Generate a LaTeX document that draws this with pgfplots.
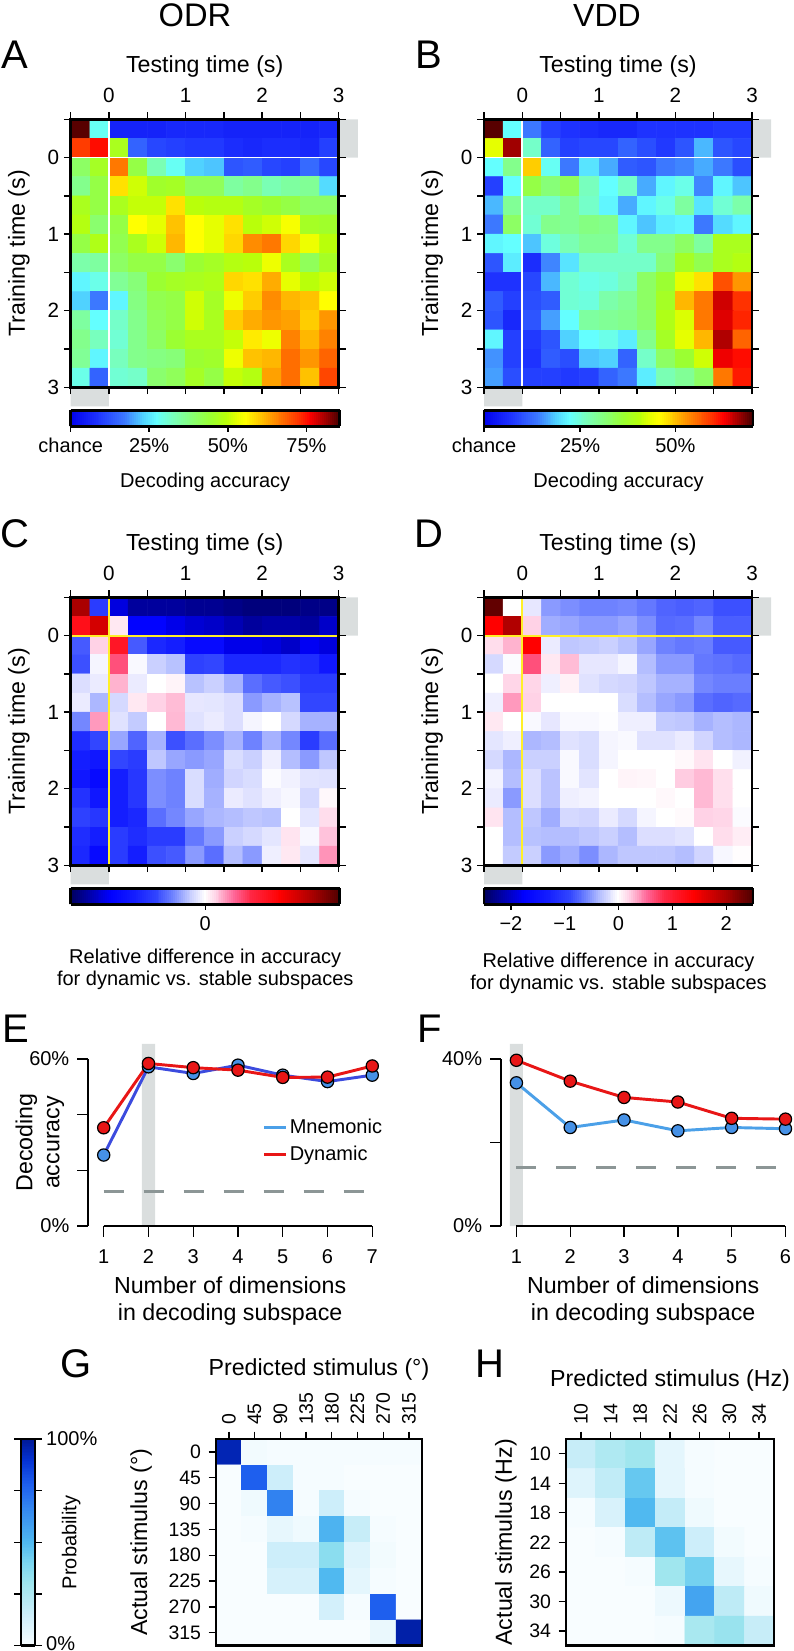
\documentclass[border=0pt]{standalone}
\usepackage{fontspec}
\setmainfont{Liberation Sans}
\usepackage{pgfplots}
\pgfplotsset{compat=1.18}
\newcommand{\fs}[1]{\fontsize{#1}{#1}\selectfont}
\definecolor{sidegray}{RGB}{218,222,222}
\definecolor{dashg}{RGB}{140,150,150}
\definecolor{mblue}{RGB}{70,145,230}
\definecolor{lblue}{RGB}{75,160,232}
\definecolor{dblue}{RGB}{60,75,222}
\definecolor{mred}{RGB}{232,22,22}
\definecolor{yline}{RGB}{255,240,40}
\pgfplotsset{
 colormap={acc}{rgb255(0pt)=(0,0,235) rgb255(10pt)=(30,50,255) rgb255(20pt)=(60,120,255) rgb255(27pt)=(80,210,255) rgb255(32pt)=(100,255,255) rgb255(38pt)=(120,255,190) rgb255(45pt)=(135,255,120) rgb255(52pt)=(155,255,50) rgb255(58pt)=(185,255,10) rgb255(62pt)=(230,255,0) rgb255(65pt)=(255,255,0) rgb255(70pt)=(255,205,0) rgb255(75pt)=(255,150,0) rgb255(80pt)=(255,100,0) rgb255(85pt)=(255,50,0) rgb255(89pt)=(255,0,0) rgb255(95pt)=(160,0,0) rgb255(100pt)=(70,0,0)},
 colormap={dif}{rgb255(0pt)=(0,0,90) rgb255(8pt)=(0,0,180) rgb255(15pt)=(0,0,255) rgb255(24pt)=(20,30,255) rgb255(32pt)=(50,70,255) rgb255(38pt)=(110,130,255) rgb255(43pt)=(180,190,255) rgb255(48pt)=(235,235,255) rgb255(50pt)=(255,255,255) rgb255(54pt)=(255,210,230) rgb255(61pt)=(255,100,150) rgb255(67pt)=(255,40,70) rgb255(78pt)=(255,0,0) rgb255(90pt)=(170,0,0) rgb255(100pt)=(80,0,0)},
 colormap={prob}{rgb255(0pt)=(248,253,255) rgb255(15pt)=(205,238,250) rgb255(30pt)=(160,230,238) rgb255(40pt)=(125,215,240) rgb255(50pt)=(80,185,240) rgb255(65pt)=(55,140,240) rgb255(78pt)=(30,95,238) rgb255(90pt)=(5,50,210) rgb255(100pt)=(0,25,150)},
 hm/.style={scale only axis,width=201pt,height=201pt,anchor=north west,clip=false,axis on top,
  xmin=-0.5,xmax=3,ymin=-0.5,ymax=3,y dir=reverse,enlargelimits=false,
  xtick={-0.5,0,0.5,1,1.5,2,2.5,3},xticklabels={,0,,1,,2,,3},
  ytick={-0.5,0,0.5,1,1.5,2,2.5,3},yticklabels={,0,,1,,2,,3},
  tick align=outside,major tick length=5.2pt,tick style={line width=1pt,black},
  axis line style={line width=2pt},
  xticklabel pos=top,yticklabel pos=left,xticklabel shift=3.75pt,
  tick label style={font=\fs{15.5}},
  xlabel={Testing time (s)},ylabel={Training time (s)},
  label style={font=\fs{17.4}},xlabel shift=1.5pt,ylabel shift=6.5pt},
 hbar/.style={colorbar horizontal,colorbar sampled,colorbar style={samples=140,at={(parent axis.south west)},anchor=north west,yshift=-8.7pt,
  width=201.8pt,height=12pt,xtick pos=bottom,xticklabel pos=bottom,tick align=outside,major tick length=4pt,tick style={line width=1pt,black},
  xticklabel shift=1.5pt,axis line style={line width=2pt},axis on top,tick label style={font=\fs{15}},
  label style={font=\fontsize{15}{16.2}\selectfont,align=center},#1}},
 ln/.style={scale only axis,anchor=south west,clip=false,height=125.25pt,axis x line*=bottom,axis y line*=left,
  x axis line style={draw=none},y axis line style={line width=1.6pt},ymin=0,
  /pgf/number format/assume math mode=true,
  tick align=outside,major tick length=8pt,tick style={line width=1pt,black},
  xticklabel shift=6pt,yticklabel shift=2.5pt,xlabel shift=3pt,
  tick label style={font=\fs{15}},
  xlabel style={font=\fontsize{17.4}{20.2}\selectfont,align=center},ylabel style={font=\fontsize{17.4}{20.2}\selectfont,align=center}},
 cm/.style={scale only axis,anchor=north west,width=154.4pt,height=155pt,axis on top,enlargelimits=false,clip=false,
  y dir=reverse,tick align=outside,major tick length=5.5pt,tick style={line width=1pt,black},
  axis line style={line width=2pt},xticklabel pos=top,yticklabel pos=left,xtick pos=top,ytick pos=left,
  xticklabel shift=1.5pt,yticklabel shift=2.2pt,xlabel shift=2.5pt,
  tick label style={font=\fs{14.6}},xticklabel style={rotate=90,anchor=west},
  point meta min=0,point meta max=1,colormap name=prob,label style={font=\fs{17.4}}},
 hmcells/.style={matrix plot*,mesh/cols=#1,point meta=explicit}
}
\begin{document}
\begin{tikzpicture}
\path[use as bounding box] (0,0) rectangle (793*.75pt,-1651*.75pt);
% letters and titles
\foreach \t/\x/\y in {A/1/69,B/415/69,C/0/547,D/414/547,E/2/1042,F/417/1042,G/60/1377,H/475/1377}
  \node[anchor=base west,inner sep=0pt,font=\fs{30}] at (\x*.75pt,-\y*.75pt) {\t};
\node[font=\fs{24.5},anchor=base] at (195*.75pt,-27*.75pt) {ODR};
\node[font=\fs{24},anchor=base] at (607*.75pt,-27*.75pt) {VDD};

% ---------- A
\begin{axis}[hm,at={(70.7*.75pt,-119.3*.75pt)},colormap name=acc,point meta min=0,point meta max=1,
 hbar={xtick={0,0.2916,0.584,0.876},xticklabels={chance,25\%,50\%,75\%},xlabel={Decoding accuracy},xlabel shift=8pt}]
\addplot[forget plot,fill=sidegray,draw=none] coordinates {(3,-0.5)(3.25,-0.5)(3.25,0)(3,0)(3,-0.5)};
\addplot[forget plot,fill=sidegray,draw=none] coordinates {(-0.5,3)(0,3)(0,3.25)(-0.5,3.25)(-0.5,3)};
\addplot[hmcells=14] table[x expr={mod(\coordindex,14)*0.25-0.375},y expr={floor((\coordindex+0.5)/14)*0.25-0.375},meta index=0,header=false,row sep=crcr]{
.99\\.33\\.07\\.07\\.07\\.08\\.08\\.08\\.07\\.07\\.07\\.07\\.07\\.08\\
.84\\.88\\.55\\.17\\.13\\.12\\.11\\.11\\.09\\.08\\.09\\.09\\.08\\.12\\
.47\\.54\\.78\\.50\\.39\\.33\\.27\\.26\\.15\\.16\\.13\\.12\\.18\\.13\\
.43\\.50\\.68\\.60\\.53\\.54\\.48\\.48\\.41\\.43\\.39\\.41\\.42\\.28\\
.55\\.50\\.55\\.59\\.59\\.68\\.58\\.57\\.57\\.54\\.52\\.50\\.47\\.47\\
.57\\.46\\.50\\.65\\.62\\.71\\.65\\.62\\.68\\.58\\.60\\.64\\.54\\.53\\
.50\\.56\\.49\\.55\\.60\\.72\\.65\\.62\\.69\\.76\\.78\\.69\\.63\\.58\\
.40\\.41\\.47\\.50\\.50\\.46\\.52\\.54\\.57\\.58\\.63\\.55\\.48\\.54\\
.31\\.34\\.42\\.45\\.52\\.54\\.55\\.56\\.69\\.68\\.73\\.62\\.58\\.60\\
.27\\.20\\.31\\.44\\.49\\.50\\.60\\.54\\.63\\.70\\.76\\.72\\.71\\.65\\
.41\\.32\\.37\\.43\\.48\\.50\\.60\\.55\\.70\\.73\\.75\\.74\\.70\\.75\\
.43\\.38\\.36\\.43\\.47\\.52\\.55\\.55\\.59\\.67\\.63\\.77\\.72\\.77\\
.42\\.31\\.38\\.43\\.44\\.45\\.52\\.53\\.63\\.71\\.72\\.79\\.75\\.80\\
.34\\.17\\.36\\.37\\.46\\.48\\.54\\.50\\.59\\.57\\.74\\.79\\.71\\.83\\
};
\addplot[white,line width=1.3pt] coordinates {(-0.5,0)(3,0)};
\addplot[white,line width=1.3pt] coordinates {(0,-0.5)(0,3)};
\end{axis}

% ---------- B
\begin{axis}[hm,at={(484*.75pt,-119.3*.75pt)},colormap name=acc,point meta min=0,point meta max=1,
 hbar={xtick={0,0.357,0.711},xticklabels={chance,25\%,50\%},xlabel={Decoding accuracy},xlabel shift=8pt}]
\addplot[forget plot,fill=sidegray,draw=none] coordinates {(3,-0.5)(3.25,-0.5)(3.25,0)(3,0)(3,-0.5)};
\addplot[forget plot,fill=sidegray,draw=none] coordinates {(-0.5,3)(0,3)(0,3.25)(-0.5,3.25)(-0.5,3)};
\addplot[hmcells=14] table[x expr={mod(\coordindex,14)*0.25-0.375},y expr={floor((\coordindex+0.5)/14)*0.25-0.375},meta index=0,header=false,row sep=crcr]{
.99\\.32\\.20\\.12\\.10\\.09\\.08\\.08\\.10\\.10\\.10\\.10\\.11\\.11\\
.62\\.95\\.37\\.17\\.12\\.13\\.13\\.17\\.14\\.11\\.15\\.25\\.15\\.13\\
.32\\.43\\.70\\.33\\.20\\.29\\.24\\.16\\.15\\.20\\.21\\.24\\.20\\.14\\
.12\\.32\\.50\\.45\\.48\\.38\\.32\\.37\\.24\\.31\\.34\\.21\\.31\\.26\\
.25\\.42\\.37\\.37\\.42\\.37\\.31\\.24\\.31\\.34\\.41\\.29\\.36\\.40\\
.20\\.47\\.36\\.43\\.42\\.44\\.43\\.31\\.26\\.30\\.31\\.20\\.28\\.31\\
.31\\.32\\.26\\.35\\.39\\.42\\.42\\.36\\.43\\.43\\.47\\.41\\.55\\.55\\
.15\\.30\\.09\\.21\\.29\\.37\\.37\\.37\\.37\\.45\\.54\\.49\\.55\\.57\\
.10\\.10\\.13\\.25\\.36\\.34\\.35\\.38\\.47\\.52\\.62\\.68\\.82\\.75\\
.16\\.12\\.14\\.16\\.36\\.35\\.40\\.42\\.47\\.54\\.72\\.78\\.92\\.85\\
.15\\.08\\.15\\.23\\.32\\.41\\.42\\.43\\.46\\.56\\.61\\.78\\.91\\.86\\
.31\\.12\\.11\\.15\\.27\\.32\\.34\\.30\\.43\\.54\\.62\\.72\\.94\\.80\\
.22\\.12\\.10\\.16\\.14\\.26\\.27\\.17\\.37\\.47\\.52\\.60\\.90\\.88\\
.23\\.14\\.12\\.12\\.11\\.12\\.17\\.20\\.30\\.39\\.42\\.47\\.78\\.87\\
};
\addplot[white,line width=1.3pt] coordinates {(-0.5,0)(3,0)};
\addplot[white,line width=1.3pt] coordinates {(0,-0.5)(0,3)};
\end{axis}

% ---------- C
\begin{axis}[hm,at={(70.7*.75pt,-597.3*.75pt)},colormap name=dif,point meta min=-2.5,point meta max=2.5,
 hbar={xtick={0},xticklabels={0},xlabel={Relative difference in accuracy\\for dynamic vs. stable subspaces},xlabel shift=7.3pt}]
\addplot[forget plot,fill=sidegray,draw=none] coordinates {(3,-0.5)(3.25,-0.5)(3.25,0)(3,0)(3,-0.5)};
\addplot[forget plot,fill=sidegray,draw=none] coordinates {(-0.5,3)(0,3)(0,3.25)(-0.5,3.25)(-0.5,3)};
\addplot[hmcells=14] table[x expr={mod(\coordindex,14)*0.25-0.375},y expr={floor((\coordindex+0.5)/14)*0.25-0.375},meta index=0,header=false,row sep=crcr]{
2.0\\-1.0\\-1.9\\-2.2\\-2.2\\-2.2\\-2.25\\-2.25\\-2.3\\-2.35\\-2.35\\-2.35\\-2.3\\-2.3\\
1.2\\1.7\\.1\\-1.7\\-1.7\\-1.85\\-1.95\\-2.0\\-2.1\\-2.2\\-2.15\\-2.15\\-2.2\\-2.0\\
-.8\\.2\\1.1\\-.8\\-1.2\\-1.3\\-1.6\\-1.6\\-1.85\\-1.85\\-1.9\\-2.0\\-1.8\\-1.9\\
-.85\\-.05\\.65\\-.03\\-.25\\-.33\\-.95\\-.9\\-1.2\\-1.2\\-1.2\\-1.1\\-1.15\\-1.4\\
-.17\\-.1\\.3\\-.1\\0\\.05\\-.33\\-.25\\-.4\\-.7\\-.8\\-.85\\-1.0\\-1.0\\
-.1\\-.38\\-.2\\.1\\.2\\.27\\-.12\\-.13\\-.17\\-.5\\-.4\\-.33\\-.9\\-.9\\
-.58\\.38\\-.15\\-.28\\0\\.28\\-.15\\-.1\\-.17\\-.05\\0\\-.2\\-.4\\-.4\\
-1.15\\-.9\\-.45\\-.75\\-.4\\-.85\\-.7\\-.55\\-.4\\-.6\\-.4\\-.58\\-1.0\\-.7\\
-1.3\\-1.4\\-.9\\-1.0\\-.3\\-.45\\-.5\\-.45\\-.18\\-.25\\-.08\\-.35\\-.5\\-.3\\
-1.4\\-1.6\\-1.3\\-1.05\\-.55\\-.6\\-.18\\-.42\\-.22\\-.18\\-.02\\-.07\\-.14\\-.15\\
-1.1\\-1.4\\-1.3\\-1.05\\-.55\\-.6\\-.18\\-.4\\-.1\\-.15\\-.08\\-.04\\-.2\\.03\\
-.95\\-1.05\\-1.3\\-1.2\\-.7\\-.58\\-.45\\-.38\\-.35\\-.3\\-.33\\0\\-.13\\.15\\
-1.15\\-1.3\\-1.0\\-1.15\\-1.0\\-1.0\\-.65\\-.5\\-.25\\-.2\\-.13\\.12\\-.04\\.25\\
-1.2\\-1.6\\-1.0\\-1.3\\-.85\\-.8\\-.5\\-.7\\-.35\\-.5\\-.08\\.1\\-.13\\.4\\
};
\addplot[yline,line width=1.5pt] coordinates {(-0.5,0)(3,0)};
\addplot[yline,line width=1.5pt] coordinates {(0,-0.5)(0,3)};
\end{axis}

% ---------- D
\begin{axis}[hm,at={(484*.75pt,-597.3*.75pt)},colormap name=dif,point meta min=-2.5,point meta max=2.5,
 hbar={xtick={-2,-1,0,1,2},xticklabels={−2,−1,0,1,2},xlabel={Relative difference in accuracy\\for dynamic vs. stable subspaces},xlabel shift=10.3pt}]
\addplot[forget plot,fill=sidegray,draw=none] coordinates {(3,-0.5)(3.25,-0.5)(3.25,0)(3,0)(3,-0.5)};
\addplot[forget plot,fill=sidegray,draw=none] coordinates {(-0.5,3)(0,3)(0,3.25)(-0.5,3.25)(-0.5,3)};
\addplot[hmcells=14] table[x expr={mod(\coordindex,14)*0.25-0.375},y expr={floor((\coordindex+0.5)/14)*0.25-0.375},meta index=0,header=false,row sep=crcr]{
2.4\\0\\-.12\\-.5\\-.55\\-.6\\-.6\\-.58\\-.65\\-.75\\-.78\\-.75\\-.85\\-.85\\
1.4\\1.95\\.2\\-.42\\-.45\\-.5\\-.5\\-.45\\-.55\\-.72\\-.7\\-.58\\-.78\\-.78\\
.15\\.3\\1.4\\-.1\\-.3\\-.28\\-.25\\-.33\\-.45\\-.6\\-.65\\-.62\\-.8\\-.8\\
-.2\\-.02\\.65\\.1\\.27\\-.12\\-.12\\-.05\\-.35\\-.5\\-.5\\-.65\\-.68\\-.72\\
0\\.18\\.18\\-.08\\.06\\-.15\\-.2\\-.22\\-.3\\-.4\\-.4\\-.58\\-.62\\-.62\\
-.08\\.38\\.2\\0\\0\\0\\0\\-.18\\-.35\\-.45\\-.5\\-.7\\-.75\\-.72\\
.1\\0\\-.03\\-.12\\-.03\\-.03\\-.01\\-.08\\-.08\\-.28\\-.3\\-.4\\-.35\\-.38\\
-.13\\-.08\\-.38\\-.35\\-.15\\-.18\\-.05\\-.03\\-.15\\-.15\\-.1\\-.22\\-.35\\-.38\\
-.2\\-.38\\-.25\\-.25\\-.03\\-.18\\-.05\\0\\0\\0\\.03\\.12\\0\\-.07\\
-.06\\-.35\\-.17\\-.32\\-.03\\-.14\\0\\.05\\.04\\0\\.22\\.28\\.14\\0\\
-.1\\-.5\\-.17\\-.32\\-.08\\-.06\\0\\0\\0\\.03\\0\\.28\\.14\\0\\
.12\\-.35\\-.3\\-.42\\-.2\\-.22\\-.1\\-.2\\-.05\\0\\.02\\.2\\.18\\-.02\\
0\\-.35\\-.33\\-.35\\-.35\\-.3\\-.25\\-.35\\-.17\\-.17\\-.14\\0\\.15\\.08\\
0\\-.28\\-.25\\-.5\\-.42\\-.55\\-.38\\-.3\\-.3\\-.3\\-.35\\-.22\\-.04\\.01\\
};
\addplot[yline,line width=1.5pt] coordinates {(-0.5,0)(3,0)};
\addplot[yline,line width=1.5pt] coordinates {(0,-0.5)(0,3)};
\end{axis}

% ---------- E
\begin{axis}[ln,at={(88*.75pt,-1226*.75pt)},width=213.2pt,xmin=0.649,xmax=7,ymax=60,
 xtick={1,2,3,4,5,6,7},ytick={0,20,40,60},yticklabels={0\%,,,60\%},
 xlabel={Number of dimensions\\in decoding subspace},ylabel={Decoding\\accuracy},ylabel shift=-33pt,
 legend cell align=left,
 legend style={at={(axis cs:4.55,39.5)},anchor=north west,draw=none,fill=none,font=\fs{15},row sep=4pt,inner sep=0pt},
 legend image code/.code={\draw[#1] (0pt,0pt) -- (16pt,0pt);}]
\addplot[forget plot,fill=sidegray,draw=none] coordinates {(1.853,0)(2.147,0)(2.147,65.4)(1.853,65.4)(1.853,0)};
\addplot[forget plot,dashg,line width=2.2pt,dash pattern=on 15pt off 15pt] coordinates {(1,12.3)(7,12.3)};
\addplot[forget plot,black,line width=2.2pt] coordinates {(1,0)(7,0)};
\addplot[forget plot,dblue,line width=2.2pt,mark=*,mark size=4.6pt,mark options={fill=mblue,draw=black,line width=.9pt}] coordinates {(1,25.5)(2,57.2)(3,54.8)(4,57.8)(5,54.2)(6,51.9)(7,54.2)};
\addplot[forget plot,mred,line width=2.2pt,mark=*,mark size=4.6pt,mark options={fill=mred,draw=black,line width=.9pt}] coordinates {(1,35.3)(2,58.4)(3,56.9)(4,56)(5,53.4)(6,53.5)(7,57.5)};
\addlegendimage{lblue,line width=2.2pt}\addlegendentry{Mnemonic}
\addlegendimage{mred,line width=2.2pt}\addlegendentry{Dynamic}
\end{axis}

% ---------- F
\begin{axis}[ln,at={(500.8*.75pt,-1226*.75pt)},width=213.5pt,xmin=0.71,xmax=6,ymax=40,
 xtick={1,2,3,4,5,6},ytick={0,20,40},yticklabels={0\%,,40\%},
 xlabel={Number of dimensions\\in decoding subspace}]
\addplot[forget plot,fill=sidegray,draw=none] coordinates {(0.878,0)(1.122,0)(1.122,43.6)(0.878,43.6)(0.878,0)};
\addplot[forget plot,dashg,line width=2.2pt,dash pattern=on 15pt off 15pt] coordinates {(1,14.1)(6,14.1)};
\addplot[forget plot,black,line width=2.2pt] coordinates {(1,0)(6,0)};
\addplot[forget plot,lblue,line width=2.2pt,mark=*,mark size=4.6pt,mark options={fill=mblue,draw=black,line width=.9pt}] coordinates {(1,34.3)(2,23.6)(3,25.4)(4,22.8)(5,23.6)(6,23.3)};
\addplot[forget plot,mred,line width=2.2pt,mark=*,mark size=4.6pt,mark options={fill=mred,draw=black,line width=.9pt}] coordinates {(1,39.7)(2,34.7)(3,30.8)(4,29.7)(5,25.8)(6,25.6)};
\end{axis}

% ---------- G
\begin{axis}[cm,at={(216*.75pt,-1439*.75pt)},xmin=-0.5,xmax=7.5,ymin=-0.5,ymax=7.5,ylabel shift=5.6pt,
 xtick={0,...,7},ytick={0,...,7},xticklabels={0,45,90,135,180,225,270,315},yticklabels={0,45,90,135,180,225,270,315},
 xlabel={Predicted stimulus (°)},ylabel={Actual stimulus (°)},
 colorbar,colorbar sampled,colorbar style={samples=140,at={(parent axis.north west)},anchor=north west,xshift=-154.9pt,width=10.5pt,height=155pt,
  ytick={0,.25,.5,.75,1},yticklabels={\raisebox{3.5pt}{0\%},,,,100\%},tick align=outside,major tick length=5pt,tick style={line width=1pt,black},
  axis line style={line width=2pt},axis on top,tick label style={font=\fs{15}},
  ylabel={Probability},ylabel style={font=\fs{15},at={(axis description cs:3.6,0.5)},anchor=center}}]
\addplot[hmcells=8] table[x expr={mod(\coordindex,8)},y expr={floor((\coordindex+0.5)/8)},meta index=0,header=false,row sep=crcr]{
.95\\.02\\.01\\.01\\.01\\.01\\.01\\.01\\
0\\.78\\.15\\.01\\.01\\0\\0\\0\\
0\\.03\\.68\\.01\\.15\\.01\\0\\0\\
0\\.01\\.06\\.03\\.52\\.17\\.01\\0\\
0\\0\\.15\\.15\\.36\\.09\\.02\\0\\
0\\0\\.12\\.12\\.50\\.07\\.01\\0\\
0\\0\\0\\0\\.13\\.01\\.78\\0\\
0\\0\\0\\0\\0\\0\\.05\\.97\\
};
\end{axis}

% ---------- H
\begin{axis}[cm,at={(566*.75pt,-1439*.75pt)},width=156pt,xmin=-0.5,xmax=6.5,ymin=-0.5,ymax=6.5,ylabel shift=2.6pt,
 xtick={0,...,6},ytick={0,...,6},xticklabels={10,14,18,22,26,30,34},yticklabels={10,14,18,22,26,30,34},
 xlabel={Predicted stimulus (Hz)},ylabel={Actual stimulus (Hz)}]
\addplot[hmcells=7] table[x expr={mod(\coordindex,7)},y expr={floor((\coordindex+0.5)/7)},meta index=0,header=false,row sep=crcr]{
.17\\.25\\.30\\.07\\.01\\0\\0\\
.09\\.19\\.45\\.07\\.01\\0\\0\\
.01\\.11\\.50\\.18\\.03\\0\\0\\
0\\.01\\.20\\.47\\.15\\.02\\0\\
0\\0\\.01\\.30\\.42\\.06\\.01\\
0\\0\\0\\.04\\.57\\.20\\.03\\
0\\0\\0\\.01\\.27\\.32\\.17\\
};
\end{axis}
\end{tikzpicture}
\end{document}
